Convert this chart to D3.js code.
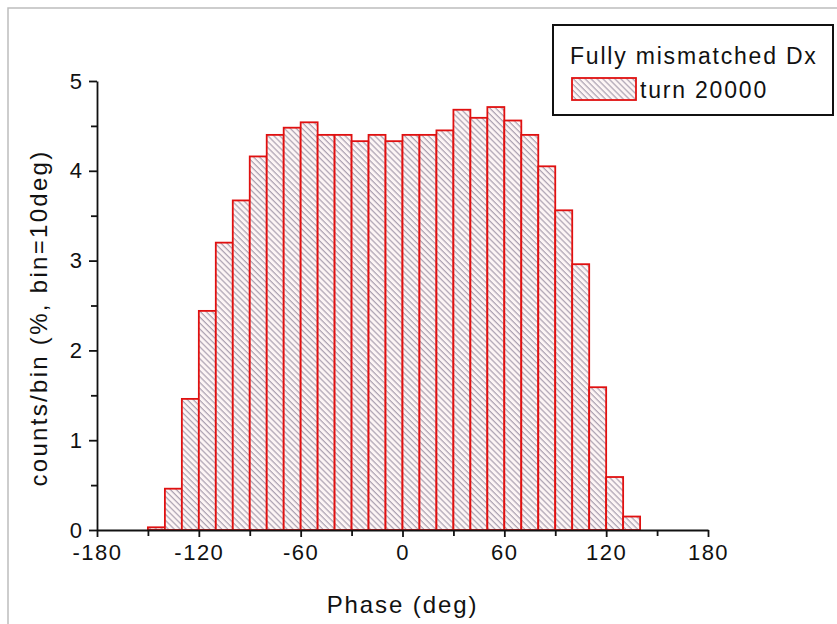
<!DOCTYPE html>
<html>
<head>
<meta charset="utf-8">
<script src="https://cdn.jsdelivr.net/npm/d3@7"></script>
<style>
  body { margin: 0; background: #fff; }
  svg text { font-family: "Liberation Sans", Arial, sans-serif; fill: #111; }
</style>
</head>
<body>
<svg id="chart"></svg>
<script>
// bin left edges (deg) and counts per bin (%)
const binStarts = [-150, -140, -130, -120, -110, -100, -90, -80, -70, -60, -50, -40, -30, -20, -10,
                   0, 10, 20, 30, 40, 50, 60, 70, 80, 90, 100, 110, 120, 130];
const counts = [0.03, 0.46, 1.46, 2.44, 3.20, 3.67, 4.16, 4.40, 4.48, 4.54, 4.40, 4.40, 4.33, 4.40, 4.33,
                4.40, 4.40, 4.45, 4.68, 4.59, 4.71, 4.56, 4.40, 4.05, 3.56, 2.96, 1.59, 0.59, 0.15];
const binWidth = 10;
const xTicks = [-180, -120, -60, 0, 60, 120, 180];
const xMinorTicks = [-150, -90, -30, 30, 90, 150];
const yTicks = [0, 1, 2, 3, 4, 5];
const yMinorTicks = [0.5, 1.5, 2.5, 3.5, 4.5];
const seriesName = "turn 20000";
const legendTitle = "Fully mismatched Dx";

const W = 837, H = 624;
const svg = d3.select("#chart").attr("width", W).attr("height", H);

// outer frame (only top/left visible in the source)
svg.append("path")
    .attr("d", "M8,624 V8 H837")
    .attr("fill", "none")
    .attr("stroke", "#bdbdbd")
    .attr("stroke-width", 1.5);

const x = d3.scaleLinear().domain([-180, 180]).range([97, 708]);
const y = d3.scaleLinear().domain([0, 5]).range([530, 81]);

// hatch pattern
const defs = svg.append("defs");
const pat = defs.append("pattern")
    .attr("id", "hatch")
    .attr("patternUnits", "userSpaceOnUse")
    .attr("width", 4.2)
    .attr("height", 10)
    .attr("patternTransform", "rotate(-45)");
pat.append("rect").attr("width", 4.2).attr("height", 10).attr("fill", "#fdf5f5");
pat.append("line")
    .attr("x1", 1).attr("y1", 0).attr("x2", 1).attr("y2", 10)
    .attr("stroke", "#8f8499")
    .attr("stroke-width", 0.9);

// bars
svg.append("g")
    .selectAll("rect")
    .data(binStarts)
    .join("rect")
    .attr("x", d => x(d))
    .attr("width", d => x(d + binWidth) - x(d))
    .attr("y", (d, i) => y(counts[i]))
    .attr("height", (d, i) => y(0) - y(counts[i]))
    .attr("fill", "url(#hatch)")
    .attr("stroke", "#e01010")
    .attr("stroke-width", 1.8);

const fmt = d => String(d);  // plain hyphen minus, as in the source

// axes
const xAxis = svg.append("g")
    .attr("transform", "translate(0," + y(0) + ")")
    .call(d3.axisBottom(x).tickValues(xTicks).tickFormat(fmt).tickSize(7).tickPadding(7).tickSizeOuter(0));
svg.append("g")
    .attr("transform", "translate(0," + y(0) + ")")
    .call(d3.axisBottom(x).tickValues(xMinorTicks).tickSize(6).tickFormat("").tickSizeOuter(0))
    .select(".domain").remove();

const yAxis = svg.append("g")
    .attr("transform", "translate(" + x(-180) + ",0)")
    .call(d3.axisLeft(y).tickValues(yTicks).tickFormat(fmt).tickSize(8).tickPadding(7).tickSizeOuter(0));
svg.append("g")
    .attr("transform", "translate(" + x(-180) + ",0)")
    .call(d3.axisLeft(y).tickValues(yMinorTicks).tickSize(6).tickFormat("").tickSizeOuter(0))
    .select(".domain").remove();

svg.selectAll(".domain, .tick line").attr("stroke", "#111").attr("stroke-width", 1.8);
svg.selectAll(".tick text")
    .attr("fill", "#111")
    .style("font-size", "22px")
    .style("font-family", "Liberation Sans, Arial, sans-serif");
xAxis.selectAll(".tick text").style("letter-spacing", "1.5px");

// axis titles
svg.append("text")
    .attr("x", x(0))
    .attr("y", 613)
    .attr("text-anchor", "middle")
    .style("font-size", "24px")
    .style("letter-spacing", "1.9px")
    .text("Phase (deg)");

svg.append("text")
    .attr("transform", "translate(47,318) rotate(-90)")
    .attr("text-anchor", "middle")
    .style("font-size", "24px")
    .style("letter-spacing", "2.3px")
    .text("counts/bin (%, bin=10deg)");

// legend
const lg = svg.append("g");
lg.append("rect")
    .attr("x", 553).attr("y", 25).attr("width", 280).attr("height", 90)
    .attr("fill", "#fff").attr("stroke", "#111").attr("stroke-width", 2);
lg.append("text")
    .attr("x", 570).attr("y", 64)
    .style("font-size", "23px")
    .style("letter-spacing", "1.8px")
    .text(legendTitle);
lg.append("rect")
    .attr("x", 572).attr("y", 78).attr("width", 64).attr("height", 22)
    .attr("fill", "url(#hatch)").attr("stroke", "#e01010").attr("stroke-width", 1.8);
lg.append("text")
    .attr("x", 640).attr("y", 98)
    .style("font-size", "23px")
    .style("letter-spacing", "1.8px")
    .text(seriesName);
</script>
</body>
</html>
